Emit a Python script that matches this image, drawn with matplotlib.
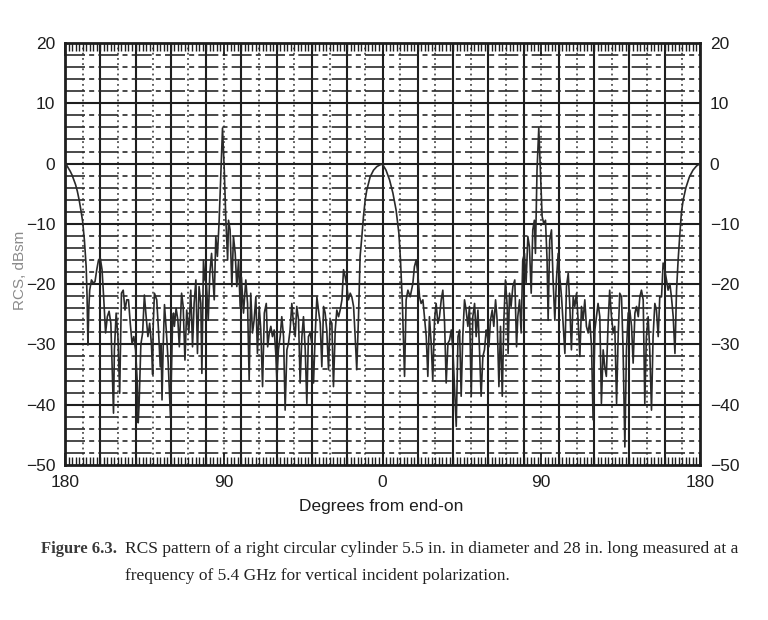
import matplotlib
matplotlib.use('Agg')
import matplotlib.pyplot as plt

# ---- data (degrees from end-on, RCS in dBsm) ----
angle_deg = [
    -180, -179, -178, -177, -176, -175, -174, -173, -172, -171, -170, -169, -168, -167.5, -167,
    -166.5, -166, -165, -164, -163, -162, -161, -160, -159, -158, -157, -156, -155, -154, -153,
    -152.5, -152, -151, -150, -149, -148, -147, -146, -145, -144, -143, -142, -141, -140, -139,
    -138.5, -138, -137, -136, -135, -134, -133, -132, -131, -130.3, -130, -129.3, -128, -127, -126,
    -125.5, -125, -124.3, -123.6, -122.5, -121.5, -120.2, -119, -118.5, -118, -117, -116, -115.2, -113.9, -113,
    -112, -111, -109.8, -108.7, -107.7, -106.8, -105.8, -104.9, -104, -103, -102.4, -101.5, -100.7, -99.8, -98.8,
    -97.9, -96.9, -96.2, -95.4, -94.5, -93.6, -92.6, -91.6, -90.7, -89.7, -88.8, -87.8, -87.3, -86.4, -85.4,
    -84.5, -83.5, -82.6, -81.6, -80.7, -80, -78.8, -77.5, -76.5, -75.6, -74.7, -73.7, -72.8, -71.8, -70.9,
    -69.9, -69, -68, -67, -65.9, -65.1, -64.2, -63.3, -62.4, -61.4, -60.5, -59.9, -59, -58, -57.1,
    -56.1, -55.2, -54.2, -53.3, -52.4, -51.4, -50.5, -49.5, -48.6, -47.6, -46.7, -45.7, -44.8, -43.8, -42.9,
    -42, -41, -40.1, -39.1, -38.2, -37.2, -36.3, -35.3, -34.4, -33.4, -32.5, -31.6, -30.6, -29.7, -28.7,
    -27.8, -26.8, -25.9, -24.9, -24, -23, -22.1, -21.2, -20.2, -19.3, -18.3, -17.4, -16.4, -15.5, -14.6,
    -13.6, -12.7, -11.7, -10.8, -9.8, -8.9, -7, -5.1, -3.2, -1.3, 0, 2, 4, 5.9, 7.7,
    9.3, 10.2, 11.2, 12.5, 13.4, 14.4, 15.7, 17.2, 18.1, 19.1, 20, 21, 21.9, 22.9, 23.8,
    24.8, 25.7, 26.6, 27.6, 28.5, 29.5, 30.4, 31.4, 32.3, 33.3, 34.2, 35.2, 36.1, 37.1, 38,
    39, 39.9, 40.9, 41.8, 42.8, 43.7, 44.6, 45.5, 46.5, 47.4, 48.4, 49.3, 50.3, 51.2, 52.2,
    53.1, 54.1, 55, 55.9, 56.9, 57.8, 58.8, 59.4, 60.3, 61.2, 62.2, 63.1, 64.1, 65, 66,
    66.9, 67.9, 68.8, 69.7, 70.7, 71.2, 72, 72.9, 73.9, 75, 76, 76.7, 77.7, 78.6, 79.5,
    80.5, 81.4, 82.4, 83.3, 84.3, 85.2, 86.1, 86.7, 87.6, 88.6, 89.5, 90.5, 91.4, 92.4, 93.3,
    93.9, 94.8, 95.8, 96.7, 97.7, 98.6, 99.6, 100.5, 101.5, 102.4, 103.4, 104.3, 105.3, 106.2, 107.1,
    108.1, 109, 110, 110.9, 111.9, 112.8, 113.7, 114.7, 115.6, 116.6, 117.5, 118.5, 119.4, 120.4, 121.3,
    122.2, 123.2, 124.1, 125.1, 126, 126.9, 127.9, 128.8, 129.8, 130.8, 131.7, 132.7, 133.6, 134.5, 135.5,
    136.4, 137.4, 138.3, 139.3, 140.2, 141.2, 142.1, 143.1, 144, 145, 145.9, 146.8, 147.8, 148.7, 149.6,
    150.6, 151.5, 152.5, 153.4, 154.4, 155.3, 156.3, 157.2, 158.2, 159.1, 160, 161, 161.9, 162.9, 163.8,
    164.8, 165.8, 166.7, 167.6, 168.6, 169.5, 170.5, 172, 174, 176, 178, 180,
]
rcs_dbsm = [
    0, -0.3, -0.8, -1.3, -1.9, -2.7, -3.5, -4.6, -6.0, -7.7, -9.6, -12.7, -17.1, -22, -30.1,
    -24, -21, -19.3, -19.8, -19.6, -17.6, -16, -15.7, -17.6, -22.6, -28.1, -25.4, -24.5, -26.5, -36.4,
    -41.4, -30.9, -24.8, -28.7, -38.1, -21.5, -21, -24.3, -22.6, -22.6, -26.5, -29.8, -28.7, -30.9, -36.4,
    -43, -40, -30, -28.1, -21.8, -25.4, -28.7, -26.5, -30, -35, -27, -21.5, -22.6, -27.6, -33.7,
    -30, -39.2, -30, -23.4, -28, -33, -42, -25.9, -24.8, -27, -24, -26, -30.4, -21.5, -23.7,
    -32.6, -24.3, -28.1, -21, -30.4, -23.2, -19.3, -31.5, -20.4, -23.2, -34.8, -16, -19.3, -19.9, -26,
    -18.2, -14.9, -18.8, -22.6, -12.1, -15.4, -9.4, -1.1, 5.9, -1.1, -9.4, -16, -9.4, -11, -20.4,
    -12.1, -14.9, -20.4, -16, -23.7, -18.8, -24.8, -19.3, -23.2, -35.9, -21.5, -28.1, -26, -22.1, -31.5,
    -23.7, -27.6, -37, -24.8, -23.2, -30.4, -28.1, -27, -28.7, -27.6, -31.5, -35.9, -30.9, -28.7, -25.4,
    -28.7, -40.9, -30.9, -29.8, -27.6, -23.2, -26.5, -28.7, -23.7, -25.9, -36.4, -28.7, -25.4, -30.9, -39.8,
    -28.7, -28.1, -29.8, -36.4, -28.7, -22.1, -24.3, -26.5, -33.7, -23.7, -24.8, -27.6, -34.2, -25.9, -26.5,
    -37, -27.6, -24.3, -25.4, -24.3, -22.6, -17.6, -18.7, -20.4, -22.6, -21.5, -22.1, -23.7, -28.7, -34.2,
    -25.4, -15.4, -12.1, -8.8, -6.0, -4.4, -2.2, -1.1, -0.5, -0.2, -0.1, -1.1, -2.7, -4.9, -7.7,
    -11.6, -16, -22.6, -35.3, -22.6, -21, -22.1, -19.9, -17.1, -16, -18.2, -22.1, -23.2, -22.6, -25.4,
    -28.7, -35.3, -25.4, -29.8, -35.9, -25.9, -23.2, -26.5, -25.4, -22.6, -21, -26.5, -36.4, -29.8, -29.3,
    -27.6, -30.9, -37.5, -43.6, -28.7, -27.6, -38.6, -28.7, -22.6, -24.3, -27, -23.7, -38.6, -25.4, -23.2,
    -28.7, -24.3, -30.9, -38.6, -32, -30.9, -27.6, -28.4, -30.4, -26, -24.3, -27, -22.6, -26, -37,
    -27, -38.6, -26, -19.3, -23.7, -31.5, -21.5, -23.7, -20.4, -19.3, -30.4, -25.4, -22.6, -28.1, -16,
    -14.9, -19.9, -12.1, -13.8, -21.5, -11, -9.4, -14.9, -1.1, 5.9, -1.1, -8.8, -9.9, -9.4, -16,
    -26, -12.7, -11, -19.3, -26, -19.3, -14.9, -18.8, -22.1, -26.5, -31.5, -20.4, -18.2, -23.7, -30.9,
    -22.1, -23.7, -21.5, -26, -32, -23.7, -26, -22.6, -27, -28.1, -26, -30.4, -42.5, -27.6, -25.4,
    -23.2, -25.4, -39.8, -30.9, -33.7, -35.3, -26.5, -21, -25.4, -28.1, -27, -39.8, -28.7, -21.5, -22.1,
    -30.9, -47, -30.9, -24.8, -24.3, -27, -33.1, -24.8, -23.7, -25.4, -22.1, -21, -22.6, -39.8, -28.7,
    -25.4, -30.9, -40.9, -28.7, -23.2, -24.3, -28.7, -22.1, -22.1, -16.5, -17.6, -19.3, -21, -19.9, -22.1,
    -25.4, -31.5, -21, -16, -11.6, -8, -6, -4, -2.2, -1.1, -0.4, 0,
]

x_ticks = [-180, -90, 0, 90, 180]
x_tick_labels = ['180', '90', '0', '90', '180']
y_ticks = [20, 10, 0, -10, -20, -30, -40, -50]

x_label = 'Degrees from end-on'
y_label = 'RCS, dBsm'
caption_head = 'Figure 6.3.'
caption_line1 = ('RCS pattern of a right circular cylinder 5.5 in. in diameter '
                 'and 28 in. long measured at a')
caption_line2 = 'frequency of 5.4 GHz for vertical incident polarization.'

W, H = 768, 620
fig = plt.figure(figsize=(W / 100, H / 100), dpi=100)
fig.patch.set_facecolor('white')
ax = fig.add_axes([65 / W, 1 - 465 / H, 635 / W, 422 / H])
ax.set_xlim(-180, 180)
ax.set_ylim(-50, 20)

ink = '#1e1e1e'
# vertical grid: solid every 20 deg, dotted at odd tens
for g in range(-160, 180, 20):
    ax.axvline(g, color=ink, lw=1.5, zorder=1)
for g in range(-170, 180, 20):
    ax.axvline(g, color='#333333', lw=1.1, ls=(0, (1.2, 2.2)), zorder=1)
# horizontal grid: solid every 10 dB, dashed every 2 dB
for g in range(-40, 20, 10):
    ax.axhline(g, color=ink, lw=1.5, zorder=1)
for g in range(-48, 20, 2):
    if g % 10 != 0:
        ax.axhline(g, color='#2a2a2a', lw=1.2, ls=(0, (12, 2.5, 3, 2.5)), zorder=1)

ax.plot(angle_deg, rcs_dbsm, color='#2a2a2a', lw=1.2, zorder=3)

for s in ax.spines.values():
    s.set_linewidth(2.0)
    s.set_color(ink)

ax.set_xticks(x_ticks)
ax.set_xticklabels(x_tick_labels)
ax.set_xticks(range(-180, 181, 2), minor=True)
ax.set_yticks(y_ticks)
ax.tick_params(axis='x', which='major', length=9, width=1.3, direction='in',
               top=True, bottom=True, pad=7, labelsize=12.5, colors=ink)
ax.tick_params(axis='x', which='minor', length=6, width=1.0, direction='in',
               top=True, bottom=True, colors=ink)
ax.tick_params(axis='y', which='major', length=0, left=True, right=True,
               labelleft=True, labelright=True, pad=7, labelsize=12.5, colors=ink)
for lab in ax.get_xticklabels() + ax.get_yticklabels():
    lab.set_fontfamily('Liberation Sans')

fig.text(381 / W, 1 - 507 / H, x_label, ha='center', va='center',
         fontsize=12.5, family='Liberation Sans', color=ink)
fig.text(20 / W, 1 - 270 / H, y_label, ha='center', va='center', rotation=90,
         fontsize=11, family='Liberation Sans', color='#8a8a8a')

fig.text(41 / W, 1 - 549 / H, caption_head, ha='left', va='center',
         fontsize=12, family='Liberation Serif', weight='bold', color='#3a3a3a')
fig.text(125 / W, 1 - 549 / H, caption_line1, ha='left', va='center',
         fontsize=12.5, family='Liberation Serif', color='#222222')
fig.text(125 / W, 1 - 576 / H, caption_line2, ha='left', va='center',
         fontsize=12.5, family='Liberation Serif', color='#222222')

fig.savefig('out.png', dpi=100, facecolor=fig.get_facecolor())
